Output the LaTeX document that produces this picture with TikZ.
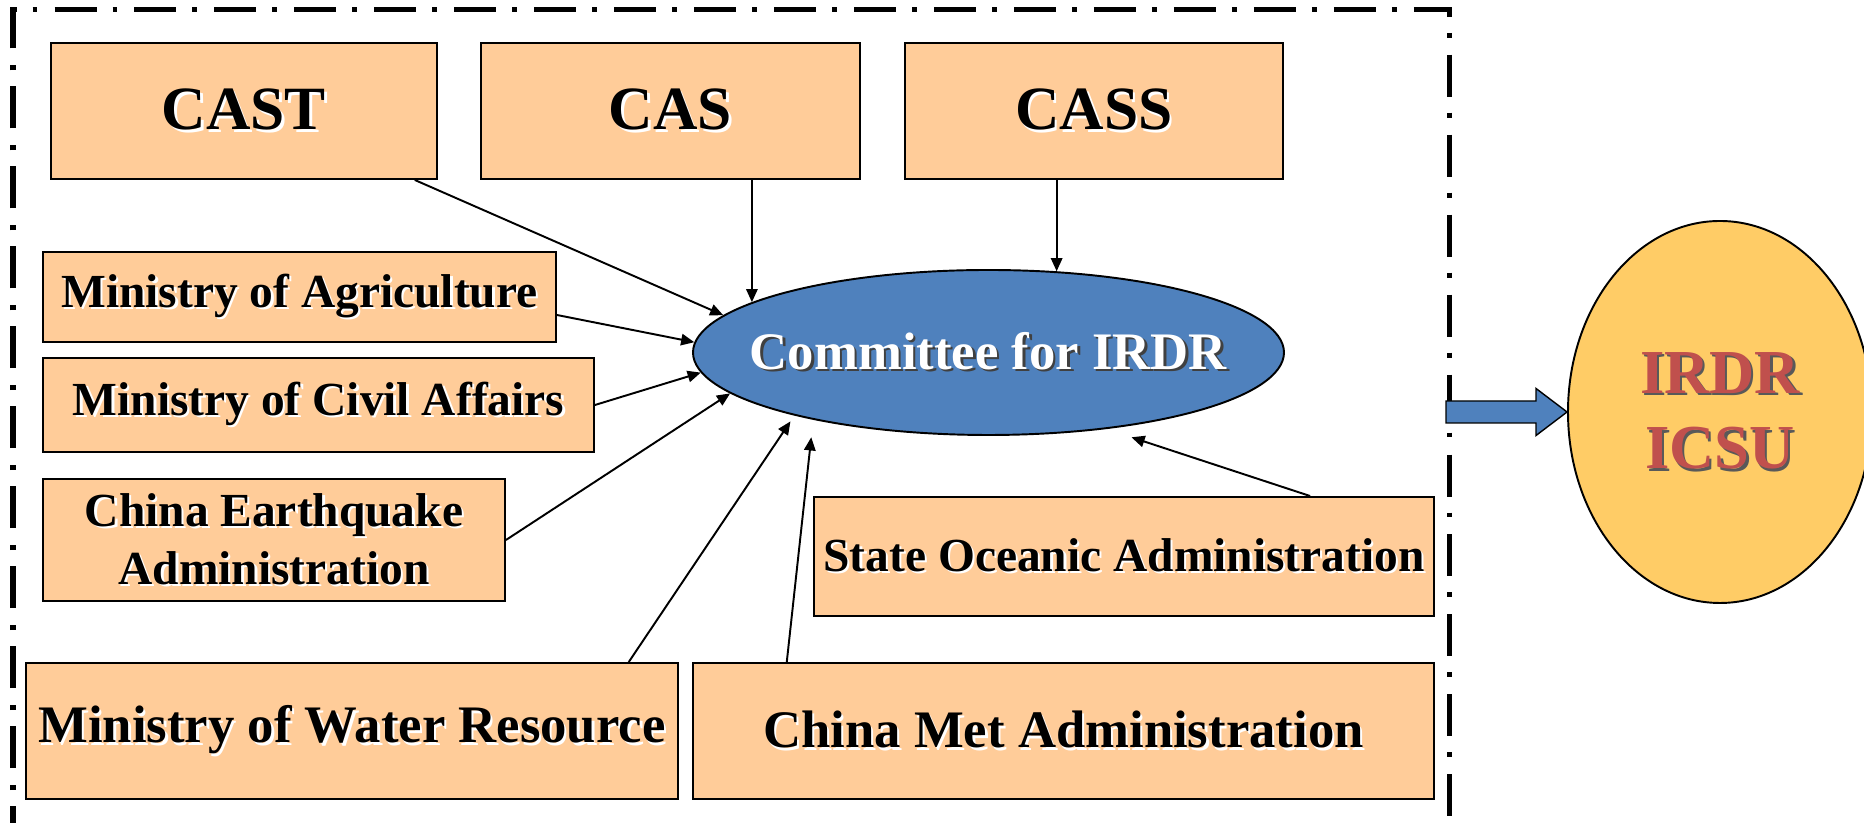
\documentclass[tikz,border=0pt]{standalone}
\usepackage{fontspec}
\setmainfont{Liberation Serif}
\usepackage{tikz}
\usetikzlibrary{shapes.geometric,arrows.meta}

\definecolor{peach}{RGB}{255,204,153}
\definecolor{irdrblue}{RGB}{79,129,189}
\definecolor{irdryellow}{RGB}{255,204,102}
\definecolor{irdrred}{RGB}{192,80,77}

% text with a soft offset shadow
\newcommand{\shadowed}[2]{\makebox[0pt][l]{\hspace{1.3pt}\raisebox{-1.3pt}{\color{#1}#2}}#2}

\begin{document}
\begin{tikzpicture}[
  org/.style={draw, line width=1.1pt, fill=peach, inner sep=0pt, align=center},
  bigorg/.style={org, minimum height=2.72cm, font=\fontsize{35}{42}\selectfont\bfseries},
  midorg/.style={org, font=\fontsize{27}{33}\selectfont\bfseries},
  loworg/.style={org, minimum height=2.72cm, font=\fontsize{30}{36}\selectfont\bfseries},
  link/.style={line width=1.1pt, -{Triangle[length=7.5pt,width=6.5pt]}}
]
  \useasboundingbox (0,0) rectangle (37.28,16.46);

  \draw[line width=2.85pt, dash pattern=on 23.9pt off 9.1pt on 2.8pt off 9.7pt]
    (0.26,-0.5) -- (0.26,16.26) -- (28.98,16.26) -- (28.98,-0.5);

  \node[bigorg, minimum width=7.72cm] (cast) at (4.88,14.24) {\shadowed{white}{CAST}};
  \node[bigorg, minimum width=7.58cm] (cas) at (13.41,14.24) {\shadowed{white}{CAS}};
  \node[bigorg, minimum width=7.56cm] (cass) at (21.88,14.24) {\shadowed{white}{CASS}};

  \node[midorg, minimum width=10.26cm, minimum height=1.80cm] (agri) at (5.99,10.52) {\shadowed{white}{Ministry of Agriculture}};
  \node[midorg, minimum width=11.02cm, minimum height=1.88cm] (civil) at (6.37,8.36) {\shadowed{white}{Ministry of Civil Affairs}};
  \node[midorg, minimum width=9.24cm, minimum height=2.44cm] (quake) at (5.48,5.66) {\shadowed{white}{China Earthquake}\\\shadowed{white}{Administration}};
  \node[midorg, minimum width=12.40cm, minimum height=2.38cm] (ocean) at (22.48,5.33) {\shadowed{white}{State Oceanic Administration}};

  \node[loworg, minimum width=13.04cm] (water) at (7.04,1.84) {\shadowed{white}{Ministry of Water Resource}};
  \node[loworg, minimum width=14.82cm] (met) at (21.27,1.84) {\shadowed{white}{China Met Administration}};

  \node[ellipse, draw, line width=1.1pt, fill=irdrblue, inner sep=0pt,
        minimum width=11.82cm, minimum height=3.30cm, text=white,
        font=\fontsize{30}{36}\selectfont\bfseries] (committee) at (19.77,9.41)
        {\makebox[0pt]{\shadowed{black!75}{Committee for IRDR}}};

  \node[ellipse, draw, line width=1.1pt, fill=irdryellow, inner sep=0pt,
        minimum width=6.08cm, minimum height=7.64cm, text=irdrred, align=center,
        font=\fontsize{35.6}{43.2}\selectfont\bfseries] (icsu) at (34.40,8.22)
        {\shadowed{black!65}{IRDR}\\\shadowed{black!65}{ICSU}};

  \draw[link] (cast.-22.5) -- (committee.172);
  \draw[link] (committee.168 |- cas.south) -- (committee.168);
  \draw[link] (committee.50.4 |- cass.south) -- (committee.50.4);
  \draw[link] (agri.-4) -- (committee.178);
  \draw[link] (civil.east) -- (committee.184);
  \draw[link] (quake.east) -- (committee.189);
  \draw[link, shorten >=4pt] (water.14.5) -- (committee.198.9);
  \draw[link, shorten >=10pt] (met.166.1) -- (committee.201.8);
  \draw[link, shorten >=15pt] (ocean.18.7) -- (committee.327.7);

  \draw[line width=0.8pt, fill=irdrblue] (icsu.west) -- ++(-0.62,0.47) -- ++(0,-0.25)
    -- ++(-1.80,0) -- ++(0,-0.44) -- ++(1.80,0) -- ++(0,-0.25) -- cycle;
\end{tikzpicture}
\end{document}
